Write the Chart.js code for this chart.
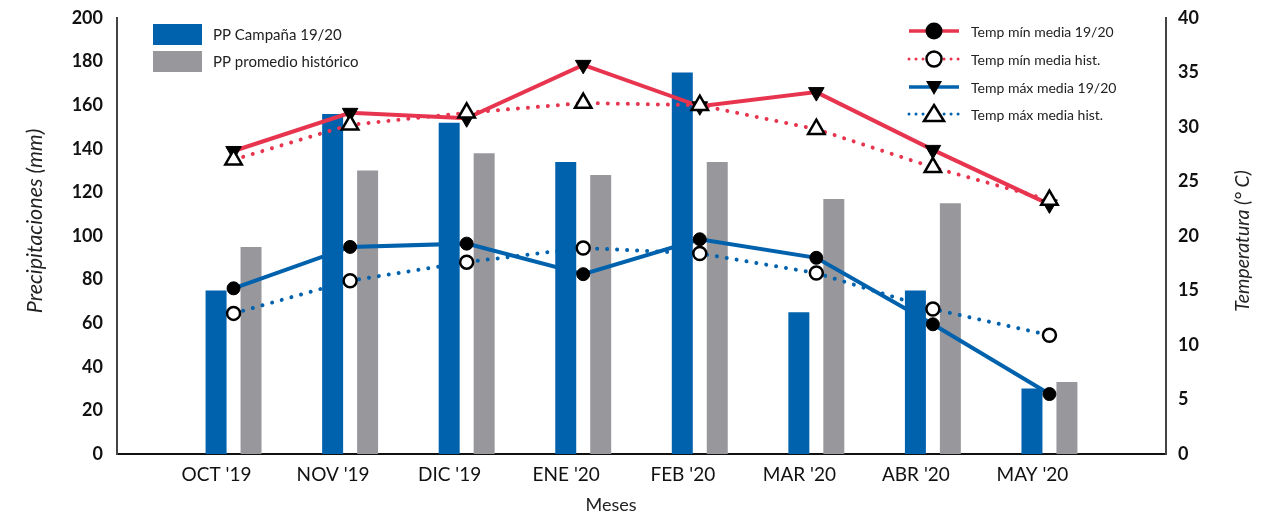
<!DOCTYPE html>
<html><head><meta charset="utf-8">
<script src="https://cdn.jsdelivr.net/npm/chart.js@4/dist/chart.umd.min.js"></script>
<style>html,body{margin:0;padding:0;background:#fff}#wrap{width:1280px;height:517px;position:relative}</style>
</head><body><div id="wrap"><canvas id="c" width="1280" height="517"></canvas></div>
<script>
const months = ["OCT '19","NOV '19","DIC '19","ENE '20","FEB '20","MAR '20","ABR '20","MAY '20"];
const ppCampana = [75,156,152,134,175,65,75,30];
const ppHistorico = [95,130,138,128,134,117,115,33];
const tRedSolid = [27.8,31.3,30.8,35.7,31.9,33.2,27.9,22.9];
const tRedDotted = [27.0,30.2,31.3,32.2,32.0,29.8,26.3,23.3];
const tBlueSolid = [15.2,19.0,19.3,16.5,19.7,18.0,11.9,5.5];
const tBlueDotted = [12.9,15.9,17.6,18.9,18.4,16.6,13.3,10.9];
const legendBars = ["PP Campaña 19/20","PP promedio histórico"];
const legendLines = ["Temp mín media 19/20","Temp mín media hist.","Temp máx media 19/20","Temp máx media hist."];
const yLeftTitle = "Precipitaciones (mm)";
const yRightTitle = "Temperatura (° C)";
const xTitle = "Meses";

const BLUE = '#0061ad', GRAY = '#98979c', RED = '#e8354f';
const pad = a => [null, ...a, null];
const labels = ['', ...months, ''];
const FONT = 'Lato';

const overlay = {
  id: 'overlay',
  afterDraw(chart) {
    const ctx = chart.ctx;
    ctx.save();
    // left legend
    ctx.font = `15px ${FONT}`;
    ctx.fillStyle = '#222';
    ctx.textBaseline = 'middle';
    ctx.textAlign = 'left';
    const bc = [BLUE, GRAY];
    const by = [34, 61];
    for (let i = 0; i < 2; i++) {
      ctx.fillStyle = bc[i];
      ctx.fillRect(153, by[i] - 10, 49, 21);
      ctx.fillStyle = '#222';
      ctx.fillText(legendBars[i], 213, by[i] + 1);
    }
    // right legend
    const ry = [31, 59, 87, 114];
    const lc = [RED, RED, BLUE, BLUE];
    const dotted = [false, true, false, true];
    const mk = ['fcircle', 'ocircle', 'dtri', 'otri'];
    for (let i = 0; i < 4; i++) {
      ctx.strokeStyle = lc[i];
      ctx.lineWidth = dotted[i] ? 3 : 3.5;
      ctx.lineCap = dotted[i] ? 'round' : 'butt';
      ctx.setLineDash(dotted[i] ? [0.01, 7] : []);
      ctx.beginPath(); ctx.moveTo(909, ry[i]); ctx.lineTo(959, ry[i]); ctx.stroke();
      ctx.setLineDash([]);
      const x = 934, y = ry[i];
      ctx.lineWidth = 2.5;
      ctx.strokeStyle = '#000';
      if (mk[i] === 'fcircle') {
        ctx.fillStyle = '#000'; ctx.beginPath(); ctx.arc(x, y, 8.5, 0, Math.PI * 2); ctx.fill();
      } else if (mk[i] === 'ocircle') {
        ctx.fillStyle = '#fff'; ctx.beginPath(); ctx.arc(x, y, 7.5, 0, Math.PI * 2); ctx.fill(); ctx.stroke();
      } else if (mk[i] === 'dtri') {
        ctx.fillStyle = '#000'; ctx.beginPath();
        ctx.moveTo(x - 8, y - 6); ctx.lineTo(x + 8, y - 6); ctx.lineTo(x, y + 8); ctx.closePath(); ctx.fill();
      } else {
        ctx.fillStyle = '#fff'; ctx.beginPath();
        ctx.moveTo(x, y - 9); ctx.lineTo(x + 10, y + 7); ctx.lineTo(x - 10, y + 7); ctx.closePath(); ctx.fill(); ctx.stroke();
      }
      ctx.fillStyle = '#222';
      ctx.font = `14px ${FONT}`;
      ctx.fillText(legendLines[i], 971, ry[i] + 1);
    }
    // axis titles
    ctx.fillStyle = '#222';
    ctx.textAlign = 'center';
    ctx.font = `italic 21.5px ${FONT}`;
    ctx.save(); ctx.translate(35, 221); ctx.rotate(-Math.PI / 2); ctx.fillText(yLeftTitle, 0, 0); ctx.restore();
    ctx.font = `italic 19.5px ${FONT}`;
    ctx.save(); ctx.translate(1243, 241); ctx.rotate(-Math.PI / 2); ctx.fillText(yRightTitle, 0, 0); ctx.restore();
    ctx.font = `18px ${FONT}`;
    ctx.fillText(xTitle, 611, 505);
    ctx.restore();
  }
};

const ptCommon = { pointBorderColor: '#000', pointBorderWidth: 2.5, pointHoverRadius: 7 };
const noPadY = w => s => { s.width = w; s.paddingTop = 0; s.paddingBottom = 0; };

new Chart(document.getElementById('c'), {
  type: 'bar',
  data: {
    labels,
    datasets: [
      { type: 'line', label: legendLines[2], data: pad(tRedSolid), yAxisID: 'y1', borderColor: RED, borderWidth: 4,
        pointStyle: 'triangle', rotation: 180, pointRadius: 9, pointBackgroundColor: '#000', pointBorderColor: '#000', pointBorderWidth: 1, order: 1 },
      { type: 'line', label: legendLines[3], data: pad(tRedDotted), yAxisID: 'y1', borderColor: RED, borderWidth: 4,
        borderDash: [0.01, 10], borderCapStyle: 'round', pointStyle: 'triangle', pointRadius: 9.5, pointBackgroundColor: '#fff', ...ptCommon, order: 0 },
      { type: 'line', label: legendLines[0], data: pad(tBlueSolid), yAxisID: 'y1', borderColor: BLUE, borderWidth: 4,
        pointStyle: 'circle', pointRadius: 6.5, pointBackgroundColor: '#000', pointBorderColor: '#000', pointBorderWidth: 1, order: 1 },
      { type: 'line', label: legendLines[1], data: pad(tBlueDotted), yAxisID: 'y1', borderColor: BLUE, borderWidth: 4,
        borderDash: [0.01, 10], borderCapStyle: 'round', pointStyle: 'circle', pointRadius: 6.5, pointBackgroundColor: '#fff', ...ptCommon, order: 0 },
      { label: legendBars[0], data: pad(ppCampana), backgroundColor: BLUE, yAxisID: 'y', barPercentage: 0.6, categoryPercentage: 0.6, order: 5 },
      { label: legendBars[1], data: pad(ppHistorico), backgroundColor: GRAY, yAxisID: 'y', barPercentage: 0.6, categoryPercentage: 0.6, order: 5 }
    ]
  },
  options: {
    responsive: false,
    animation: false,
    spanGaps: false,
    layout: { padding: { top: 18, left: 0, right: 0, bottom: 0 } },
    plugins: { legend: { display: false }, tooltip: { enabled: false } },
    scales: {
      x: {
        offset: false,
        grid: { display: false, drawTicks: false },
        border: { display: true, color: '#111', width: 2 },
        ticks: { color: '#111', font: { family: FONT, size: 19 }, padding: 9, labelOffset: -17, autoSkip: false, maxRotation: 0 },
        afterFit: s => { s.height = 63; s.paddingLeft = 0; s.paddingRight = 0; }
      },
      y: {
        position: 'left', min: 0, max: 200,
        ticks: { stepSize: 20, color: '#111', font: { family: FONT, size: 18, weight: 'bold' }, padding: 14 },
        grid: { display: false, drawTicks: false },
        border: { display: true, color: '#444', width: 2 },
        afterFit: noPadY(117)
      },
      y1: {
        position: 'right', min: 0, max: 40,
        ticks: { stepSize: 5, color: '#111', font: { family: FONT, size: 18, weight: 'bold' }, padding: 12 },
        grid: { display: false, drawTicks: false },
        border: { display: true, color: '#444', width: 2 },
        afterFit: noPadY(114)
      }
    }
  },
  plugins: [overlay]
});
</script></body></html>
